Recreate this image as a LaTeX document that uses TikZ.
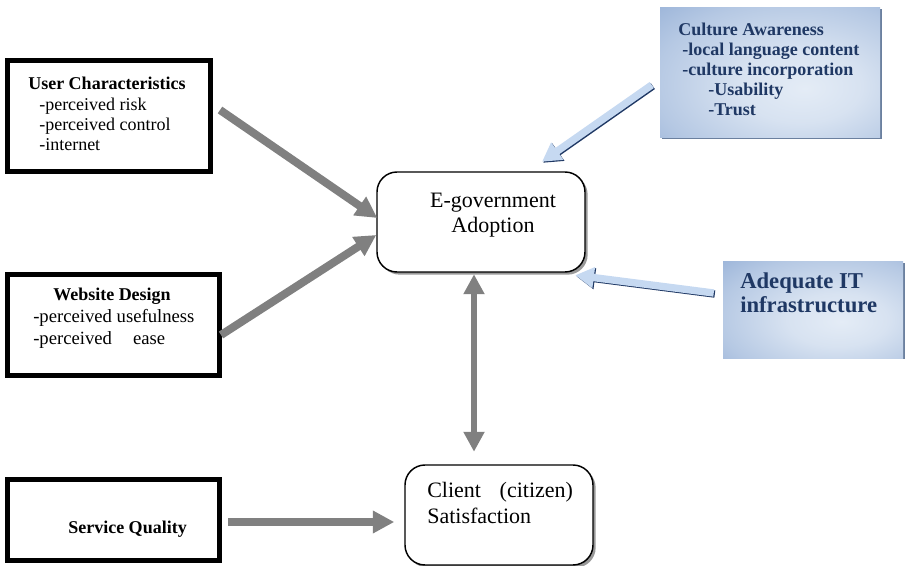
\documentclass[tikz,border=0pt]{standalone}
\usepackage{fontspec}
\setmainfont{Liberation Serif}
\usetikzlibrary{arrows.meta,shadows}

\definecolor{arrowgray}{HTML}{808080}
\definecolor{navytext}{HTML}{1F3864}
\definecolor{boxblue}{HTML}{8FABD4}
\definecolor{boxlight}{HTML}{E4ECF6}
\definecolor{arrowblue}{HTML}{C6D9F1}

\pgfdeclareradialshading{bluefade}{\pgfpoint{8bp}{-6bp}}{%
  color(0bp)=(boxlight); color(14bp)=(boxlight!85!boxblue);
  color(32bp)=(boxlight!45!boxblue); color(48bp)=(boxblue); color(100bp)=(boxblue)}

\tikzset{
  factor/.style={draw, line width=3.75pt, inner sep=0pt},
  outcome/.style={draw, line width=1.1pt, rounded corners=15pt, fill=white, inner sep=0pt,
    drop shadow={shadow xshift=2pt, shadow yshift=-2pt, fill=black!40, opacity=1}},
  bluebox/.style={shade, shading=bluefade, inner sep=0pt,
    drop shadow={shadow xshift=1.5pt, shadow yshift=-1pt, fill=boxblue!75!black, opacity=1}},
  boxtext/.style={inner sep=0pt, align=left},
  grayarrow/.style={draw=arrowgray, line width=6pt, -{Triangle[length=16pt,width=16pt]}},
  bluearrow/.style={draw=arrowblue, line width=5.5pt, -{Triangle[length=14pt,width=15pt]}}
}

\begin{document}
\begin{tikzpicture}[x=0.75pt, y=-0.75pt]
  \useasboundingbox (0,0) rectangle (909,566);

  % Factors on the left
  \node[factor, minimum width=152.25pt, minimum height=83.25pt] (user) at (109,116) {};
  \node[boxtext, anchor=north west, font=\fontsize{13.5}{15.25}\selectfont] (usertext) at (28,77)
    {\textbf{User Characteristics}\\ \hspace*{8.25pt}-perceived risk\\ \hspace*{8.25pt}-perceived control\\ \hspace*{8.25pt}-internet};

  \node[factor, minimum width=159pt, minimum height=75.75pt] (website) at (113.5,325) {};
  \node[boxtext, anchor=north west, font=\fontsize{14}{16.5}\selectfont] (websitetext) at (33,288)
    {\hspace*{15pt}{\fontsize{13.5}{16.5}\selectfont\bfseries Website Design}\\ -perceived usefulness\\ -perceived\hspace{15.75pt}ease};

  \node[factor, minimum width=159pt, minimum height=60.75pt] (service) at (113.5,520) {};
  \node[anchor=base west, inner sep=0pt, font=\fontsize{13.5}{15}\selectfont\bfseries] (servicetext) at (68,533) {Service Quality};

  % Outcomes
  \node[outcome, minimum width=156pt, minimum height=75pt] (egov) at (481,222) {};
  \node[inner sep=0pt, align=center, anchor=north, font=\fontsize{16.5}{18.75}\selectfont] (egovtext) at (493,192.5)
    {E-government\\Adoption};

  \node[outcome, minimum width=141pt, minimum height=75pt] (client) at (499,515) {};
  \node[boxtext, anchor=north west, font=\fontsize{16.5}{19.5}\selectfont] (clienttext) at (427,482)
    {Client\hspace{14pt}(citizen)\\Satisfaction};

  % Factors on the right
  \node[bluebox, minimum width=165pt, minimum height=97.5pt] (culture) at (770,73) {};
  \node[boxtext, anchor=north west, text=navytext, font=\fontsize{13.5}{15}\selectfont\bfseries] (culturetext) at (678,23)
    {Culture Awareness\\ \hspace*{3pt}-local language content\\ \hspace*{3pt}-culture incorporation\\ \hspace*{22.5pt}-Usability\\ \hspace*{22.5pt}-Trust};

  \node[bluebox, minimum width=135pt, minimum height=72pt] (infra) at (813,310) {};
  \node[boxtext, anchor=north west, text=navytext, font=\fontsize{17}{18}\selectfont\bfseries] (infratext) at (740,272.5)
    {Adequate IT\\infrastructure};

  % Gray arrows
  \draw[grayarrow] ([shift={(7,-6)}]user.east) -- ([shift={(1,-4)}]egov.west);
  \draw[grayarrow] ([shift={(-1,10)}]website.east) -- ([shift={(0,13)}]egov.west);
  \draw[grayarrow] ([shift={(6,2)}]service.east) -- ([shift={(-10,7)}]client.west);
  \draw[grayarrow, line width=5pt, {Triangle[length=15pt,width=15pt]}-{Triangle[length=15pt,width=15pt]}]
    ([shift={(-7,1.5)}]egov.south) -- ([shift={(-25,-12.5)}]client.north);

  % Blue arrows
  \draw[bluearrow, draw=navytext, transform canvas={shift={(0.8pt,-0.8pt)}}]
    ([shift={(-8,12)}]culture.west) -- ([shift={(61,-9.5)}]egov.north);
  \draw[bluearrow] ([shift={(-8,12)}]culture.west) -- ([shift={(61,-9.5)}]egov.north);
  \draw[bluearrow, draw=navytext, transform canvas={shift={(0.8pt,-0.8pt)}}]
    ([shift={(-9,-17)}]infra.west) -- ([shift={(-10.5,2.5)}]egov.south east);
  \draw[bluearrow] ([shift={(-9,-17)}]infra.west) -- ([shift={(-10.5,2.5)}]egov.south east);
\end{tikzpicture}
\end{document}
